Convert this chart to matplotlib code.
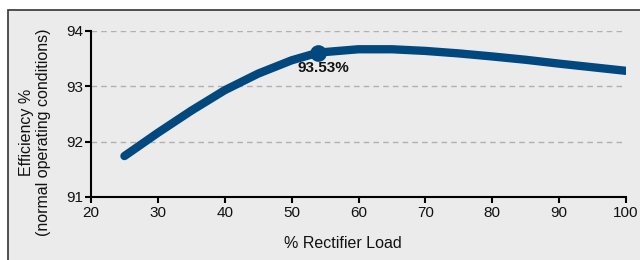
import matplotlib
matplotlib.use("Agg")
import matplotlib.pyplot as plt
from matplotlib.patches import Rectangle

plt.rcParams['font.family'] = ['Liberation Sans', 'DejaVu Sans']

# efficiency curve
load = [25, 30, 35, 40, 45, 50, 54, 60, 65, 70, 75, 80, 85, 90, 95, 100]
efficiency = [91.74, 92.16, 92.56, 92.93, 93.23, 93.47, 93.61, 93.67, 93.67,
              93.64, 93.595, 93.54, 93.48, 93.41, 93.345, 93.28]
peak_load = 54
peak_eff = 93.61
peak_label = "93.53%"

x_ticks = [20, 30, 40, 50, 60, 70, 80, 90, 100]
y_ticks = [91, 92, 93, 94]

W, H = 640, 260
fig = plt.figure(figsize=(6.4, 2.6), dpi=100)
fig.patch.set_facecolor('white')

# grey panel with a dark border, cut off at right and bottom
panel = Rectangle((8 / W, -0.1), 1.0, 1.1 - 10 / H, transform=fig.transFigure,
                  facecolor='#ebebeb', edgecolor='#333333', linewidth=1.2, zorder=-10)
fig.patches.append(panel)

ax = fig.add_axes([91 / W, 1 - 197 / H, (626 - 91) / W, (197 - 31) / H])
ax.patch.set_visible(False)

for y in [92, 93, 94]:
    ax.axhline(y, color='#b0b0b0', linestyle=(0, (4, 3)), linewidth=1, zorder=1)

ax.plot(load, efficiency, color='#00487e', linewidth=6, solid_capstyle='round',
        solid_joinstyle='round', zorder=3)
ax.plot([peak_load], [peak_eff], 'o', color='#00487e', markersize=11, zorder=4)
ax.text(peak_load + 0.8, peak_eff - 0.16, peak_label, ha='center', va='top',
        fontsize=11, fontweight='bold', color='#111111')

ax.set_xlim(20, 100)
ax.set_ylim(91, 94)
ax.set_xticks(x_ticks)
ax.set_yticks(y_ticks)
ax.tick_params(direction='out', length=4.5, width=1.5, color='black', labelsize=11,
               labelcolor='#111111')
ax.tick_params(axis='x', pad=2)
ax.tick_params(axis='y', pad=1)
for side in ['top', 'right']:
    ax.spines[side].set_visible(False)
for side in ['left', 'bottom']:
    ax.spines[side].set_linewidth(1.5)
    ax.spines[side].set_color('black')

fig.text(343 / W, 1 - 243 / H, '% Rectifier Load', ha='center', va='center',
         fontsize=11.5, color='#111111')
fig.text(35 / W, 1 - 132 / H, 'Efficiency %\n(normal operating conditions)',
         ha='center', va='center', rotation=90, fontsize=11.5, color='#111111',
         linespacing=1.2, multialignment='center')

fig.savefig('out.png', dpi=100)
